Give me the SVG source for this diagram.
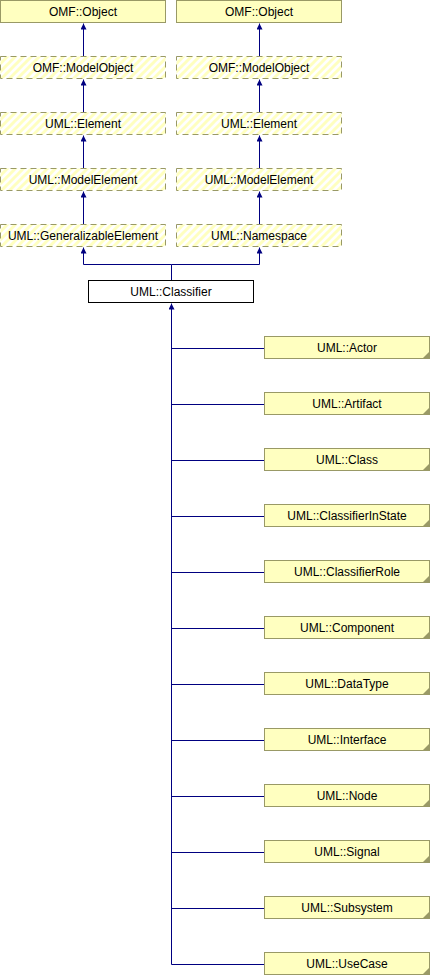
<svg xmlns="http://www.w3.org/2000/svg" width="430" height="976" viewBox="0 0 430 976">
<defs>
<pattern id="hatch" patternUnits="userSpaceOnUse" width="8" height="8">
<rect width="8" height="8" fill="#ffffff"/>
<path d="M-2,2 L2,-2 M0,8 L8,0 M6,10 L10,6" stroke="#ffffc0" stroke-width="3"/>
</pattern>
<marker id="arr" viewBox="0 0 10 10" refX="10" refY="5" markerWidth="6" markerHeight="6" orient="auto-start-reverse" markerUnits="userSpaceOnUse">
<path d="M0,0 L10,5 L0,10 Z" fill="#000080"/>
</marker>
<style>
.solid{fill:#ffffc0;stroke:#999966;stroke-width:1}
.dash{fill:url(#hatch);stroke:#999966;stroke-width:1;stroke-dasharray:6,4}
.cls{fill:#ffffff;stroke:#000000;stroke-width:1}
.corner{fill:#999966}
text{font-family:"Liberation Sans",Arial,sans-serif;font-size:12px;fill:#000000;text-anchor:middle}
.edge{fill:none;stroke:#000080;stroke-width:1}
</style>
</defs>
<rect width="430" height="976" fill="#ffffff"/>
<g id="connectors">
<path class="edge" d="M83.5,56 V23.5" marker-end="url(#arr)"/>
<path class="edge" d="M259.5,56 V23.5" marker-end="url(#arr)"/>
<path class="edge" d="M83.5,112 V79.5" marker-end="url(#arr)"/>
<path class="edge" d="M259.5,112 V79.5" marker-end="url(#arr)"/>
<path class="edge" d="M83.5,168 V135.5" marker-end="url(#arr)"/>
<path class="edge" d="M259.5,168 V135.5" marker-end="url(#arr)"/>
<path class="edge" d="M83.5,224 V191.5" marker-end="url(#arr)"/>
<path class="edge" d="M259.5,224 V191.5" marker-end="url(#arr)"/>
<path class="edge" d="M171.5,280 V264.5 H83.5 V247.5" marker-end="url(#arr)"/>
<path class="edge" d="M171.5,264.5 H259.5 V247.5" marker-end="url(#arr)"/>
<path class="edge" d="M171.5,964.5 V303.5" marker-end="url(#arr)"/>
<path class="edge" d="M171.5,348.5 H264 M171.5,404.5 H264 M171.5,460.5 H264 M171.5,516.5 H264 M171.5,572.5 H264 M171.5,628.5 H264 M171.5,684.5 H264 M171.5,740.5 H264 M171.5,796.5 H264 M171.5,852.5 H264 M171.5,908.5 H264 M171.5,964.5 H264"/>
</g>
<g id="omf_object_1"><rect class="solid" x="0.5" y="0.5" width="165" height="22"/><text x="83" y="16">OMF::Object</text></g>
<g id="omf_object_2"><rect class="solid" x="176.5" y="0.5" width="165" height="22"/><text x="259" y="16">OMF::Object</text></g>
<g id="omf_modelobject_1"><rect class="dash" x="0.5" y="56.5" width="165" height="22"/><text x="83" y="72">OMF::ModelObject</text></g>
<g id="omf_modelobject_2"><rect class="dash" x="176.5" y="56.5" width="165" height="22"/><text x="259" y="72">OMF::ModelObject</text></g>
<g id="uml_element_1"><rect class="dash" x="0.5" y="112.5" width="165" height="22"/><text x="83" y="128">UML::Element</text></g>
<g id="uml_element_2"><rect class="dash" x="176.5" y="112.5" width="165" height="22"/><text x="259" y="128">UML::Element</text></g>
<g id="uml_modelelement_1"><rect class="dash" x="0.5" y="168.5" width="165" height="22"/><text x="83" y="184">UML::ModelElement</text></g>
<g id="uml_modelelement_2"><rect class="dash" x="176.5" y="168.5" width="165" height="22"/><text x="259" y="184">UML::ModelElement</text></g>
<g id="uml_generalizableelement"><rect class="dash" x="0.5" y="224.5" width="165" height="22"/><text x="83" y="240">UML::GeneralizableElement</text></g>
<g id="uml_namespace"><rect class="dash" x="176.5" y="224.5" width="165" height="22"/><text x="259" y="240">UML::Namespace</text></g>
<g id="uml_classifier"><rect class="cls" x="88.5" y="280.5" width="165" height="22"/><text x="171" y="296">UML::Classifier</text></g>
<g id="uml_actor"><rect class="solid" x="264.5" y="336.5" width="165" height="22"/><polygon class="corner" points="429,352 429,359 422,359"/><text x="347" y="352">UML::Actor</text></g>
<g id="uml_artifact"><rect class="solid" x="264.5" y="392.5" width="165" height="22"/><polygon class="corner" points="429,408 429,415 422,415"/><text x="347" y="408">UML::Artifact</text></g>
<g id="uml_class"><rect class="solid" x="264.5" y="448.5" width="165" height="22"/><polygon class="corner" points="429,464 429,471 422,471"/><text x="347" y="464">UML::Class</text></g>
<g id="uml_classifierinstate"><rect class="solid" x="264.5" y="504.5" width="165" height="22"/><polygon class="corner" points="429,520 429,527 422,527"/><text x="347" y="520">UML::ClassifierInState</text></g>
<g id="uml_classifierrole"><rect class="solid" x="264.5" y="560.5" width="165" height="22"/><polygon class="corner" points="429,576 429,583 422,583"/><text x="347" y="576">UML::ClassifierRole</text></g>
<g id="uml_component"><rect class="solid" x="264.5" y="616.5" width="165" height="22"/><polygon class="corner" points="429,632 429,639 422,639"/><text x="347" y="632">UML::Component</text></g>
<g id="uml_datatype"><rect class="solid" x="264.5" y="672.5" width="165" height="22"/><polygon class="corner" points="429,688 429,695 422,695"/><text x="347" y="688">UML::DataType</text></g>
<g id="uml_interface"><rect class="solid" x="264.5" y="728.5" width="165" height="22"/><polygon class="corner" points="429,744 429,751 422,751"/><text x="347" y="744">UML::Interface</text></g>
<g id="uml_node"><rect class="solid" x="264.5" y="784.5" width="165" height="22"/><polygon class="corner" points="429,800 429,807 422,807"/><text x="347" y="800">UML::Node</text></g>
<g id="uml_signal"><rect class="solid" x="264.5" y="840.5" width="165" height="22"/><polygon class="corner" points="429,856 429,863 422,863"/><text x="347" y="856">UML::Signal</text></g>
<g id="uml_subsystem"><rect class="solid" x="264.5" y="896.5" width="165" height="22"/><polygon class="corner" points="429,912 429,919 422,919"/><text x="347" y="912">UML::Subsystem</text></g>
<g id="uml_usecase"><rect class="solid" x="264.5" y="952.5" width="165" height="22"/><polygon class="corner" points="429,968 429,975 422,975"/><text x="347" y="968">UML::UseCase</text></g>
</svg>
